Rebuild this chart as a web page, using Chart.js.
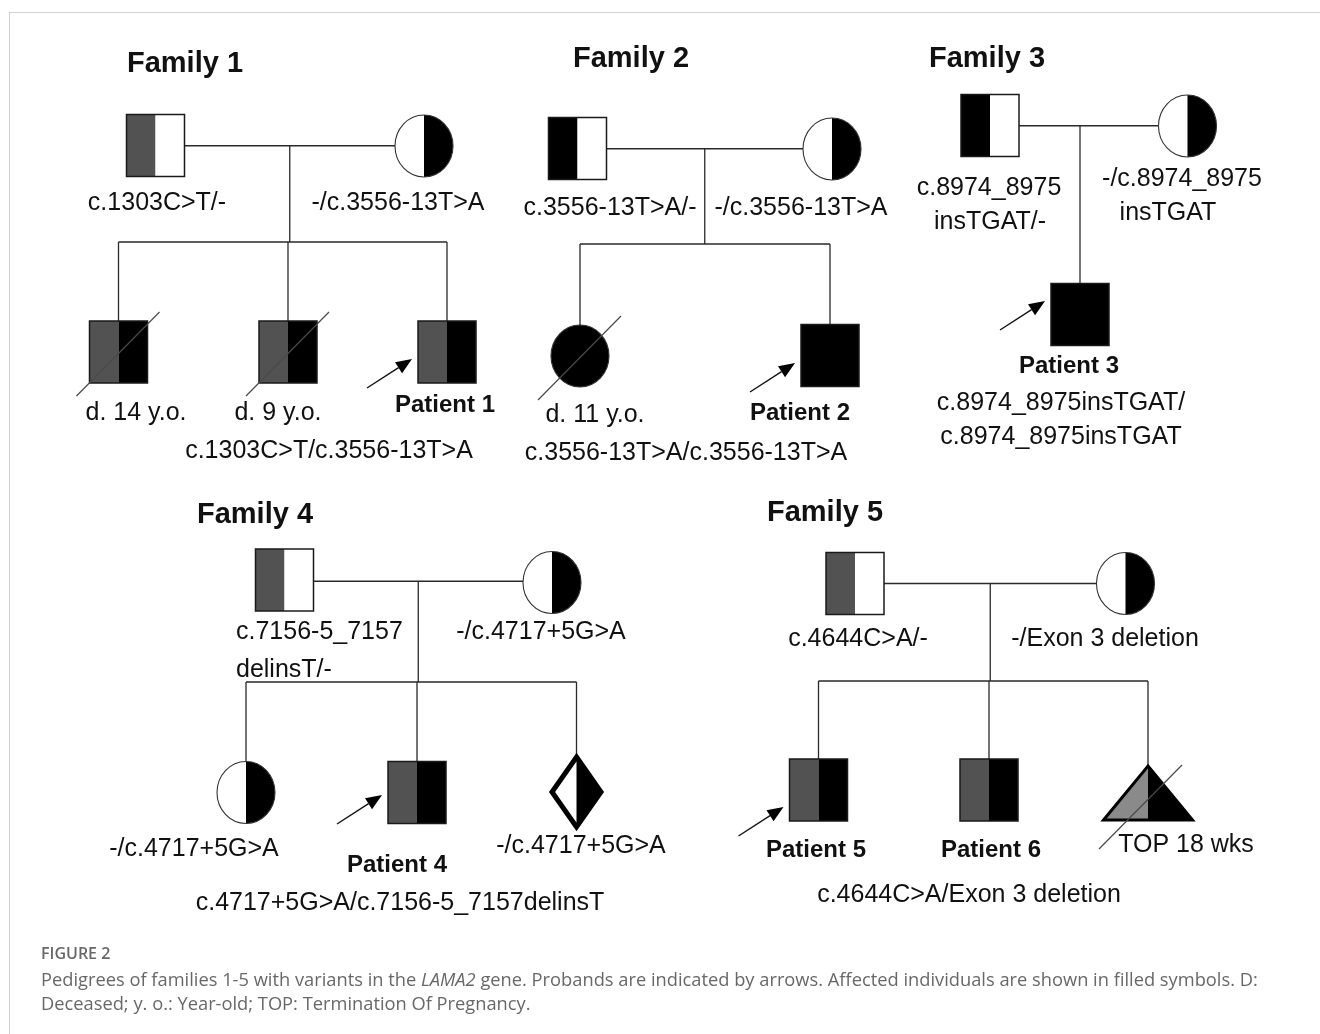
<!DOCTYPE html>
<html><head><meta charset="utf-8">
<script src="https://cdn.jsdelivr.net/npm/chart.js@4.4.1/dist/chart.umd.min.js"></script>
<style>
html,body{margin:0;padding:0;background:#fff;width:1320px;height:1034px;overflow:hidden;}
#wrap{position:relative;width:1320px;height:1034px;}
#c{position:absolute;left:0;top:0;}
.frame{position:absolute;left:9px;top:12px;right:0;bottom:0;border-left:1px solid #d2d2d2;border-top:1px solid #d2d2d2;}
.cap{position:absolute;left:41px;font-family:"Open Sans",sans-serif;color:#686868;white-space:nowrap;}
</style></head><body>
<div id="wrap">
<div class="frame"></div>
<canvas id="c" width="1320" height="1034"></canvas>
<div class="cap" id="capHead" style="top:942px;font-size:16px;font-weight:600;line-height:22px;"></div>
<div class="cap" id="capBody" style="top:967px;font-size:18.3px;line-height:24px;"></div>
</div>
<script>
// ---------------- DATA ----------------
const familyNames = ['Family 1', 'Family 2', 'Family 3', 'Family 4', 'Family 5'];
const familyTitleX = [185, 631, 987, 255, 825];
const familyTitleY = [72, 67, 67, 523, 521];
const sibshipY = [242, 244, null, 682, 681];

// individuals
const personFamily = [0,0,0,0,0, 1,1,1,1, 2,2,2, 3,3,3,3,3, 4,4,4,4,4];
const personRole   = ['F','M','C','C','C', 'F','M','C','C', 'F','M','C', 'F','M','C','C','C', 'F','M','C','C','C'];
const personShape  = ['square','circle','square','square','square',
                      'square','circle','circle','square',
                      'square','circle','square',
                      'square','circle','circle','square','diamond',
                      'square','circle','square','square','triangle'];
// allele status of left / right half: A = paternal variant, B = maternal variant, N = none, L = paternal (fetus)
const personLeft   = ['A','N','A','A','A', 'B','N','B','B', 'B','N','B', 'A','N','N','A','N', 'A','N','A','A','L'];
const personRight  = ['N','B','B','B','B', 'N','B','B','B', 'N','B','B', 'N','B','B','B','B', 'N','B','B','B','B'];
const personX      = [155.5,424,118.5,288,447, 577.5,832,580,830, 990,1187.5,1080, 284.5,552,246,417,576.5, 855,1125.5,818.5,989,1148];
const personY      = [145.5,146,352,352,352, 148.5,149,356,355.5, 125.5,126,314.5, 580,582.5,792.5,792.5,792, 583.5,583.5,790,790,793];
const personDeceased = [0,0,1,1,0, 0,0,1,0, 0,0,0, 0,0,0,0,0, 0,0,0,0,1];
const personProband  = [0,0,0,0,1, 0,0,0,1, 0,0,1, 0,0,0,1,0, 0,0,1,0,0];
const probandArrowDy = [0,0,0,0,7, 0,0,0,7.5, 0,0,-13.5, 0,0,0,2.5,0, 0,0,17,0,0];

// text labels
const labelText = [
  'c.1303C>T/-', '-/c.3556-13T>A', 'd. 14 y.o.', 'd. 9 y.o.', 'Patient 1', 'c.1303C>T/c.3556-13T>A',
  'c.3556-13T>A/-', '-/c.3556-13T>A', 'd. 11 y.o.', 'Patient 2', 'c.3556-13T>A/c.3556-13T>A',
  'c.8974_8975', 'insTGAT/-', '-/c.8974_8975', 'insTGAT', 'Patient 3', 'c.8974_8975insTGAT/', 'c.8974_8975insTGAT',
  'c.7156-5_7157', 'delinsT/-', '-/c.4717+5G>A', '-/c.4717+5G>A', '-/c.4717+5G>A', 'Patient 4', 'c.4717+5G>A/c.7156-5_7157delinsT',
  'c.4644C>A/-', '-/Exon 3 deletion', 'Patient 5', 'Patient 6', 'TOP 18 wks', 'c.4644C>A/Exon 3 deletion'
];
const labelX = [157, 398, 136, 278, 445, 329,
  610, 801, 595, 800, 686,
  989, 990, 1182, 1168, 1069, 1061, 1061,
  236, 236, 541, 194, 581, 397, 400,
  858, 1105, 816, 991, 1186, 969];
const labelY = [210, 210, 420, 420, 412, 458,
  215, 215, 422, 420, 460,
  195, 229, 186, 220, 373, 410, 444,
  639, 677, 639, 856, 853, 872, 910,
  646, 646, 857, 857, 852, 902];
const labelAlign = ['c','c','c','c','c','c', 'c','c','c','c','c', 'c','c','c','c','c','c','c',
  'l','l','c','c','c','c','c', 'c','c','c','c','c','c'];
const labelBold = [0,0,0,0,1,0, 0,0,0,1,0, 0,0,0,0,1,0,0, 0,0,0,0,0,1,0, 0,0,1,1,0,0];

const captionHead = 'FIGURE 2';
const captionBody = 'Pedigrees of families 1-5 with variants in the <i>LAMA2</i> gene. Probands are indicated by arrows. Affected individuals are shown in filled symbols. D:<br>Deceased; y. o.: Year-old; TOP: Termination Of Pregnancy.';

// ---------------- STYLE ----------------
const STYLE = {
  fill: { A: '#525252', B: '#000000', N: '#ffffff', L: '#8a8a8a' },
  line: '#2a2a2a',
  lineWidth: 1.3,
  sqHalfW: 29, sqHalfH: 31,
  ciHalfW: 29, ciHalfH: 31,
  diHalfW: 24.5, diHalfH: 35,
  trHalfW: 44.5, trHalfH: 27,
  font: '"Liberation Sans", Arial, sans-serif',
  labelSize: 25, boldSize: 24, titleSize: 29
};

document.getElementById('capHead').textContent = captionHead;
document.getElementById('capBody').innerHTML = captionBody;

function halfDims(shape) {
  if (shape === 'square') return [STYLE.sqHalfW, STYLE.sqHalfH];
  if (shape === 'circle') return [STYLE.ciHalfW, STYLE.ciHalfH];
  if (shape === 'diamond') return [STYLE.diHalfW, STYLE.diHalfH];
  return [STYLE.trHalfW, STYLE.trHalfH];
}

const pedigreePlugin = {
  id: 'pedigree',
  afterDatasetsDraw(chart) {
    const ctx = chart.ctx;
    const sx = chart.scales.x, sy = chart.scales.y;
    const X = v => sx.getPixelForValue(v);
    const Y = v => sy.getPixelForValue(v);
    ctx.save();
    ctx.lineCap = 'butt';

    // ---- lines of descent ----
    ctx.strokeStyle = STYLE.line;
    ctx.lineWidth = STYLE.lineWidth;
    familyNames.forEach((name, f) => {
      const idx = personFamily.map((v, i) => v === f ? i : -1).filter(i => i >= 0);
      const fa = idx.find(i => personRole[i] === 'F');
      const mo = idx.find(i => personRole[i] === 'M');
      const kids = idx.filter(i => personRole[i] === 'C');
      const [fw] = halfDims(personShape[fa]);
      const [mw] = halfDims(personShape[mo]);
      const my = (personY[fa] + personY[mo]) / 2;
      ctx.beginPath();
      ctx.moveTo(X(personX[fa] + fw), Y(my));
      ctx.lineTo(X(personX[mo] - mw), Y(my));
      ctx.stroke();
      const topOf = i => personY[i] - halfDims(personShape[i])[1];
      if (kids.length === 1) {
        const k = kids[0];
        ctx.beginPath();
        ctx.moveTo(X(personX[k]), Y(my));
        ctx.lineTo(X(personX[k]), Y(topOf(k)));
        ctx.stroke();
      } else {
        const dx = (personX[fa] + personX[mo]) / 2;
        const sy0 = sibshipY[f];
        ctx.beginPath();
        ctx.moveTo(X(dx), Y(my));
        ctx.lineTo(X(dx), Y(sy0));
        const xs = kids.map(k => personX[k]);
        ctx.moveTo(X(Math.min(...xs)), Y(sy0));
        ctx.lineTo(X(Math.max(...xs)), Y(sy0));
        kids.forEach(k => {
          ctx.moveTo(X(personX[k]), Y(sy0));
          ctx.lineTo(X(personX[k]), Y(topOf(k)));
        });
        ctx.stroke();
      }
    });

    // ---- symbols ----
    personX.forEach((px, i) => {
      const cx = X(px), cy = Y(personY[i]);
      const [hw0, hh0] = halfDims(personShape[i]);
      const hw = X(px + hw0) - cx, hh = Y(personY[i] + hh0) - cy;
      const lc = STYLE.fill[personLeft[i]], rc = STYLE.fill[personRight[i]];
      const shape = personShape[i];
      if (shape === 'square') {
        ctx.fillStyle = lc; ctx.fillRect(cx - hw, cy - hh, hw, 2 * hh);
        ctx.fillStyle = rc; ctx.fillRect(cx, cy - hh, hw, 2 * hh);
        ctx.strokeStyle = '#1a1a1a'; ctx.lineWidth = 1.5;
        ctx.strokeRect(cx - hw, cy - hh, 2 * hw, 2 * hh);
      } else if (shape === 'circle') {
        ctx.fillStyle = lc; ctx.beginPath();
        ctx.ellipse(cx, cy, hw, hh, 0, Math.PI / 2, Math.PI * 1.5); ctx.closePath(); ctx.fill();
        ctx.fillStyle = rc; ctx.beginPath();
        ctx.ellipse(cx, cy, hw, hh, 0, -Math.PI / 2, Math.PI / 2); ctx.closePath(); ctx.fill();
        ctx.strokeStyle = '#333'; ctx.lineWidth = 1.1;
        ctx.beginPath(); ctx.ellipse(cx, cy, hw, hh, 0, 0, Math.PI * 2); ctx.stroke();
      } else if (shape === 'diamond') {
        ctx.fillStyle = lc; ctx.beginPath();
        ctx.moveTo(cx, cy - hh); ctx.lineTo(cx - hw, cy); ctx.lineTo(cx, cy + hh); ctx.closePath(); ctx.fill();
        ctx.fillStyle = rc; ctx.beginPath();
        ctx.moveTo(cx, cy - hh); ctx.lineTo(cx + hw, cy); ctx.lineTo(cx, cy + hh); ctx.closePath(); ctx.fill();
        ctx.strokeStyle = '#000'; ctx.lineWidth = 5; ctx.lineJoin = 'miter';
        ctx.beginPath();
        ctx.moveTo(cx, cy - hh); ctx.lineTo(cx + hw, cy); ctx.lineTo(cx, cy + hh); ctx.lineTo(cx - hw, cy); ctx.closePath();
        ctx.stroke();
      } else if (shape === 'triangle') {
        ctx.fillStyle = lc; ctx.beginPath();
        ctx.moveTo(cx, cy - hh); ctx.lineTo(cx - hw, cy + hh); ctx.lineTo(cx, cy + hh); ctx.closePath(); ctx.fill();
        ctx.fillStyle = rc; ctx.beginPath();
        ctx.moveTo(cx, cy - hh); ctx.lineTo(cx + hw, cy + hh); ctx.lineTo(cx, cy + hh); ctx.closePath(); ctx.fill();
        ctx.strokeStyle = '#000'; ctx.lineWidth = 3; ctx.lineJoin = 'miter';
        ctx.beginPath();
        ctx.moveTo(cx, cy - hh); ctx.lineTo(cx + hw, cy + hh); ctx.lineTo(cx - hw, cy + hh); ctx.closePath();
        ctx.stroke();
      }
      // deceased slash
      if (personDeceased[i]) {
        const off = shape === 'triangle' ? 12 : 0;
        ctx.strokeStyle = '#4a4a4a'; ctx.lineWidth = 1.2;
        ctx.beginPath();
        ctx.moveTo(X(px - 42 - 7 * (off ? 1 : 0)), Y(personY[i] + 44 + off));
        ctx.lineTo(X(px + 41 - 7 * (off ? 1 : 0)), Y(personY[i] - 40 + off));
        ctx.stroke();
      }
      // proband arrow
      if (personProband[i]) {
        const dy = probandArrowDy[i];
        const tx = X(px - 80), ty = Y(personY[i] + dy + 29);
        const hx = X(px - 35), hy = Y(personY[i] + dy);
        const ang = Math.atan2(hy - ty, hx - tx);
        const L = 16, W = 6.5;
        const bx = hx - L * Math.cos(ang), by = hy - L * Math.sin(ang);
        ctx.strokeStyle = '#111'; ctx.lineWidth = 1.4;
        ctx.beginPath(); ctx.moveTo(tx, ty); ctx.lineTo(bx, by); ctx.stroke();
        ctx.fillStyle = '#000';
        ctx.beginPath();
        ctx.moveTo(hx, hy);
        ctx.lineTo(bx + W * Math.sin(ang), by - W * Math.cos(ang));
        ctx.lineTo(bx - W * Math.sin(ang), by + W * Math.cos(ang));
        ctx.closePath(); ctx.fill();
      }
    });

    // ---- texts ----
    ctx.fillStyle = '#111';
    ctx.textBaseline = 'alphabetic';
    familyNames.forEach((t, f) => {
      ctx.font = 'bold ' + STYLE.titleSize + 'px ' + STYLE.font;
      ctx.textAlign = 'center';
      ctx.fillText(t, X(familyTitleX[f]), Y(familyTitleY[f]));
    });
    labelText.forEach((t, i) => {
      ctx.font = (labelBold[i] ? 'bold ' + STYLE.boldSize : STYLE.labelSize) + 'px ' + STYLE.font;
      ctx.textAlign = labelAlign[i] === 'l' ? 'left' : 'center';
      ctx.fillText(t, X(labelX[i]), Y(labelY[i]));
    });
    ctx.restore();
  }
};

new Chart(document.getElementById('c').getContext('2d'), {
  type: 'scatter',
  data: { datasets: [{ label: 'individuals', data: personX.map((x, i) => ({ x, y: personY[i] })), pointRadius: 0, pointHoverRadius: 0 }] },
  options: {
    responsive: false, animation: false, events: [],
    layout: { padding: 0 },
    plugins: { legend: { display: false }, tooltip: { enabled: false } },
    scales: {
      x: { type: 'linear', min: 0, max: 1320, display: false },
      y: { type: 'linear', min: 0, max: 1034, reverse: true, display: false }
    }
  },
  plugins: [pedigreePlugin]
});
</script>
</body></html>
